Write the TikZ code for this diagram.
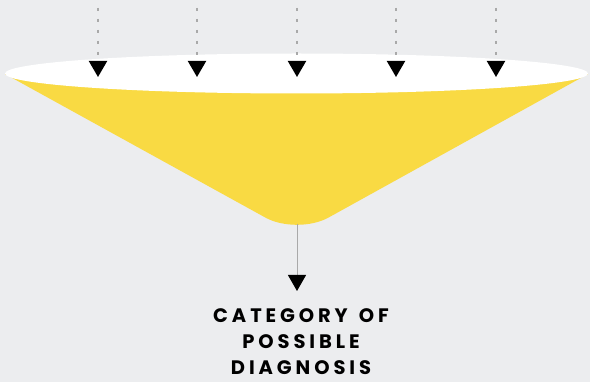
\documentclass[tikz,border=0pt]{standalone}
\usepackage{fontspec}
\setmainfont{Poppins}
\usetikzlibrary{arrows.meta}
\definecolor{bg}{HTML}{ECEDEF}
\definecolor{funnel}{HTML}{F9DA43}
\definecolor{dotgray}{HTML}{A9A9A9}
\tikzset{
  inflow/.style={draw=dotgray, line width=2pt, dash pattern=on 3pt off 8pt,
    -{Triangle[width=18pt,length=16pt,color=black]}},
  outflow/.style={draw=dotgray, line width=1pt,
    -{Triangle[width=18pt,length=16pt,color=black]}},
  label/.style={align=center, inner sep=0pt,
    font=\fontsize{19.5}{26}\selectfont\bfseries\addfontfeature{LetterSpace=20}}
}
\begin{document}
\begin{tikzpicture}[x=1pt,y=-1pt]
\fill[bg] (0,0) rectangle (590,382);
\useasboundingbox (0,0) rectangle (590,382);
% funnel body
\fill[funnel] (5,74) [rounded corners=36pt] -- (297,235) [sharp corners] -- (588,74) -- cycle;
% opening
\fill[white] (296.5,73.5) ellipse [x radius=291.5, y radius=20];
% inflow arrows
\foreach \i/\x in {1/98,2/197,3/297,4/396,5/496}{
  \coordinate (s\i) at (\x,8);
  \coordinate (e\i) at (\x,77);
  \draw[inflow] (s\i) -- (e\i);
}
% outflow
\coordinate (tip) at (297,224);
\coordinate (out) at (297,291);
\draw[outflow] (tip) -- (out);
\node[label] (cat) at (301,342) {CATEGORY\hspace{3pt} OF\\POSSIBLE\\DIAGNOSIS};
\end{tikzpicture}
\end{document}
